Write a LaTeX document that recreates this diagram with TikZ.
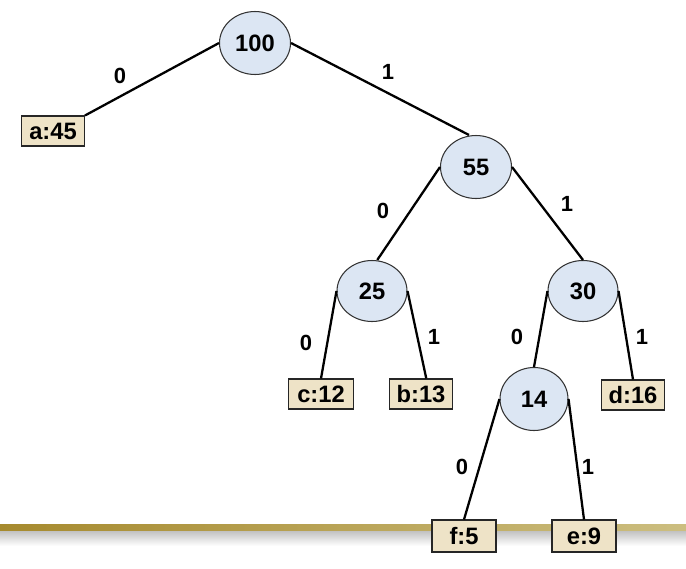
\documentclass[tikz,border=0pt]{standalone}
\usepackage{fontspec}
\setmainfont{Liberation Sans}
\usetikzlibrary{positioning,shapes.geometric}
\definecolor{nodeblue}{RGB}{220,230,243}
\definecolor{leafbeige}{RGB}{238,227,199}
\definecolor{rulegold}{RGB}{166,138,46}
\definecolor{rulelight}{RGB}{204,190,128}
\definecolor{shadowgray}{RGB}{190,190,190}

\tikzset{
  inner/.style={ellipse,draw=black!80,line width=0.6pt,fill=nodeblue,
    minimum width=1.42cm,minimum height=1.26cm,inner sep=0pt,
    font=\fontsize{13.5}{16}\selectfont\bfseries},
  leaf/.style={rectangle,draw=black!85,line width=0.6pt,fill=leafbeige,
    minimum width=1.26cm,minimum height=0.6cm,inner sep=0pt,
    font=\fontsize{13.5}{16}\selectfont\bfseries},
  edge/.style={line width=1.3pt,black},
  bit/.style={font=\fontsize{12.5}{15}\selectfont\bfseries}
}

\begin{document}
\begin{tikzpicture}[x=0.02cm,y=-0.02cm]
  \useasboundingbox (0,0) rectangle (686,568);

  % bottom rule with shadow
  \shade[top color=shadowgray,bottom color=white] (0,530) rectangle (686,546);
  \shade[left color=rulegold,right color=rulelight] (0,524) rectangle (686,530);

  % internal nodes
  \node[inner] (n100) at (255,43) {100};
  \node[inner] (n55) at (476,167) {55};
  \node[inner,minimum width=1.4cm,minimum height=1.22cm] (n25) at (372,291) {25};
  \node[inner,minimum width=1.4cm,minimum height=1.22cm] (n30) at (583,291) {30};
  \node[inner,minimum width=1.36cm,minimum height=1.26cm] (n14) at (534,399) {14};

  % leaves
  \node[leaf] (a45) at (53,131) {a:45};
  \node[leaf,minimum width=1.3cm] (c12) at (321,394) {c:12};
  \node[leaf] (b13) at (421,394) {b:13};
  \node[leaf] (d16) at (633,395) {d:16};
  \node[leaf,minimum width=1.28cm,minimum height=0.64cm] (f5) at (464,536) {f:5};
  \node[leaf,minimum width=1.28cm,minimum height=0.64cm] (e9) at (584,536) {e:9};

  % edges
  \draw[edge] (n100.west) -- (a45.north east);
  \draw[edge] (n100.east) -- ([xshift=-4]n55.north);
  \draw[edge] (n55.west) -- ([xshift=3]n25.north);
  \draw[edge] (n55.east) -- (n30.north);
  \draw[edge] (n25.west) -- (c12.north);
  \draw[edge] (n25.east) -- ([xshift=3]b13.north);
  \draw[edge] (n30.west) -- (n14.north);
  \draw[edge] (n30.east) -- (d16.north);
  \draw[edge] (n14.west) -- (f5.north);
  \draw[edge] (n14.east) -- (e9.north);

  % bit labels
  \node[bit] (b1) at (120,76) {0};
  \node[bit] (b2) at (388,72) {1};
  \node[bit] (b3) at (383,211) {0};
  \node[bit] (b4) at (567,204) {1};
  \node[bit] (b5) at (306,343) {0};
  \node[bit] (b6) at (434,337) {1};
  \node[bit] (b7) at (517,337) {0};
  \node[bit] (b8) at (642,337) {1};
  \node[bit] (b9) at (462,467) {0};
  \node[bit] (b10) at (588,467) {1};
\end{tikzpicture}
\end{document}
